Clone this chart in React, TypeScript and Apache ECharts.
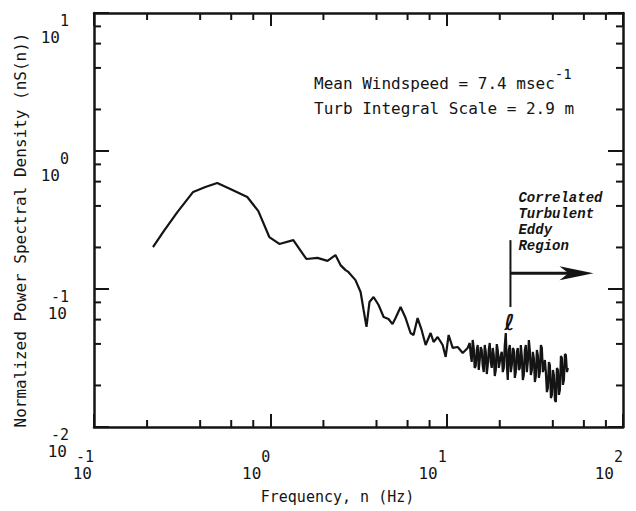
import React, { useEffect, useRef } from "react";
import * as echarts from "echarts";

// ---- data (frequency in Hz, normalized PSD nS(n)) ----
const freqHz = [
  0.216, 0.247, 0.297, 0.365, 0.428, 0.5, 0.593, 0.74, 0.855, 0.987, 1.125, 1.35, 1.6, 1.85, 2.11, 2.34, 2.5, 2.67,
  2.77, 3.04, 3.25, 3.38, 3.51, 3.65, 3.85, 4.11, 4.39, 4.68, 4.93, 5.13, 5.48, 5.85, 6.24, 6.49, 6.84, 7.21, 7.6,
  8.11, 8.43, 8.89, 9.49, 9.87, 10.26, 10.82, 11.55, 12.33, 13.16,
  13.51, 13.69, 13.87, 14.05, 14.24, 14.42, 14.61, 14.81, 15.0, 15.2, 15.4, 15.6, 15.81, 16.02, 16.23, 16.44, 16.66,
  16.88, 17.1, 17.32, 17.55, 17.78, 18.02, 18.26, 18.5, 18.74, 18.99, 19.24, 19.49, 19.75, 20.01, 20.27, 20.54, 20.81,
  21.08, 21.36, 21.64, 21.93, 22.21, 22.51, 22.8, 23.11, 23.41, 23.72, 24.03, 24.35, 24.66, 25.0, 25.32, 25.66, 25.99,
  26.34, 26.68, 27.04, 27.38, 27.76, 28.11, 28.49, 28.86, 29.25, 29.62, 30.02, 30.41, 30.82, 31.21, 31.64, 32.04,
  32.48, 32.89, 33.34, 33.76, 34.22, 34.66, 35.13, 35.58, 36.06, 36.52, 37.02, 37.49, 38.0, 38.48, 39.01, 39.5, 40.04,
  40.55, 41.11, 41.62, 42.2, 42.73, 43.31, 43.86, 44.46, 45.02, 45.64, 46.22, 46.85, 47.44, 48.09, 48.7,
];
const psd = [
  0.201, 0.259, 0.361, 0.505, 0.548, 0.586, 0.531, 0.464, 0.367, 0.238, 0.212, 0.226, 0.165, 0.168, 0.16, 0.176, 0.149,
  0.137, 0.133, 0.116, 0.0951, 0.0705, 0.0531, 0.0805, 0.0875, 0.0766, 0.0627, 0.0606, 0.0557, 0.0616, 0.0741, 0.0616,
  0.048, 0.0464, 0.0616, 0.0505, 0.0393, 0.048, 0.0413, 0.0449, 0.0393, 0.0322, 0.0464, 0.0374, 0.038, 0.0344, 0.0374,
  0.0406, 0.0332, 0.0296, 0.0427, 0.0374, 0.0268, 0.0277, 0.0361, 0.0393, 0.0259, 0.0306, 0.038, 0.0361, 0.0277,
  0.025, 0.0393, 0.035, 0.0242, 0.0281, 0.0361, 0.0406, 0.0296, 0.0268, 0.0374, 0.0332, 0.0234, 0.0259, 0.0399,
  0.0361, 0.0268, 0.0296, 0.0332, 0.035, 0.025, 0.0268, 0.0393, 0.0479, 0.0281, 0.0219, 0.0361, 0.0393, 0.025,
  0.0281, 0.0374, 0.0361, 0.0227, 0.025, 0.035, 0.0374, 0.0259, 0.0268, 0.0393, 0.0327, 0.0219, 0.0238, 0.0361,
  0.0393, 0.025, 0.0296, 0.0427, 0.0361, 0.0238, 0.0259, 0.035, 0.0316, 0.0212, 0.0234, 0.0361, 0.0332, 0.0227,
  0.025, 0.0393, 0.0374, 0.025, 0.0268, 0.0306, 0.025, 0.0179, 0.0192, 0.0296, 0.0281, 0.0162, 0.0171, 0.0259,
  0.0238, 0.0157, 0.0152, 0.0268, 0.0259, 0.0171, 0.0185, 0.0327, 0.0316, 0.0202, 0.0219, 0.0338, 0.0332, 0.025,
  0.0268,
];

// minor tick positions (2,4,6,8 within each decade)
const xMinorTicks = [0.2, 0.4, 0.6, 0.8, 2, 4, 6, 8, 20, 40, 60, 80];
const yMinorTicks = [0.02, 0.04, 0.06, 0.08, 0.2, 0.4, 0.6, 0.8, 2, 4, 6, 8];

// annotation anchors (data space)
const eddyFreq = 23;
const eddyTop = 0.226;
const eddyBottom = 0.074;
const arrowLevel = 0.13;
const arrowEndFreq = 68;

const xAxisTitle = "Frequency, n (Hz)";
const yAxisTitle = "Normalized Power Spectral Density (nS(n))";
const windLabel = "Mean Windspeed = 7.4 msec";
const windUnitExp = "-1";
const scaleLabel = "Turb Integral Scale = 2.9 m";
const regionLabel = ["Correlated", "Turbulent", "Eddy", "Region"];
const lengthLabel = "ℓ";

export default function App() {
  const ref = useRef<HTMLDivElement>(null);

  useEffect(() => {
    const chart = echarts.init(ref.current!, null, { renderer: "svg" });
    const mono = "DejaVu Sans Mono";
    const black = "#141414";

    const labelFmt = (v: number) => {
      const e = Math.round(Math.log10(v));
      return `{e|${e}}\n{${e >= 0 ? "bp" : "b"}|10}`;
    };
    const rich = {
      e: { fontFamily: mono, fontSize: 15, lineHeight: 15, color: black, align: "right" },
      b: { fontFamily: mono, fontSize: 16, lineHeight: 19, color: black, align: "right", padding: [0, 2, 0, 0] },
      bp: { fontFamily: mono, fontSize: 16, lineHeight: 19, color: black, align: "right", padding: [0, 9, 0, 0] },
    };

    const lineW = 2.5;
    const baseX = {
      type: "log",
      logBase: 10,
      min: 0.1,
      max: 100,
      splitNumber: 3,
      splitLine: { show: false },
      minorTick: { show: false },
      axisLine: { show: true, onZero: false, lineStyle: { color: black, width: lineW } },
      axisTick: { show: true, inside: true, length: 13, lineStyle: { color: black, width: 2 } },
    };
    const baseY = {
      type: "log",
      logBase: 10,
      min: 0.01,
      max: 10,
      splitNumber: 3,
      splitLine: { show: false },
      minorTick: { show: false },
      axisLine: { show: true, onZero: false, lineStyle: { color: black, width: lineW } },
      axisTick: { show: true, inside: true, length: 15, lineStyle: { color: black, width: 2 } },
    };

    const tickStyle = { stroke: black, lineWidth: 2 };

    chart.setOption({
      animation: false,
      backgroundColor: "#ffffff",
      grid: { left: 94, right: 13, top: 13, bottom: 84 },
      xAxis: [
        {
          ...baseX,
          position: "bottom",
          axisLabel: {
            formatter: labelFmt,
            rich,
            margin: 22,
            align: "right",
            showMinLabel: true,
            showMaxLabel: true,
          },
          name: xAxisTitle,
          nameLocation: "middle",
          nameGap: 62,
          nameTextStyle: { fontFamily: mono, fontSize: 15, color: black, padding: [0, 42, 0, 0] },
        },
        { ...baseX, position: "top", axisLabel: { show: false } },
      ],
      yAxis: [
        {
          ...baseY,
          position: "left",
          axisLabel: {
            formatter: labelFmt,
            rich,
            margin: 25,
            align: "right",
            verticalAlign: "top",
            showMinLabel: true,
            showMaxLabel: true,
          },
          name: yAxisTitle,
          nameLocation: "middle",
          nameGap: 66,
          nameTextStyle: { fontFamily: mono, fontSize: 16, color: black, padding: [0, 20, 0, 0] },
        },
        { ...baseY, position: "right", axisLabel: { show: false } },
      ],
      series: [
        {
          type: "line",
          xAxisIndex: 0,
          yAxisIndex: 0,
          data: freqHz.map((f, i) => [f, psd[i]]),
          showSymbol: false,
          symbol: "none",
          lineStyle: { color: black, width: 2.2 },
          silent: true,
          z: 3,
        },
        {
          type: "custom",
          xAxisIndex: 0,
          yAxisIndex: 0,
          silent: true,
          z: 5,
          data: [...xMinorTicks.map((v) => [v, 1, 0]), ...yMinorTicks.map((v) => [1, v, 1])],
          encode: { x: 0, y: 1 },
          renderItem: (params: any, api: any) => {
            const cs = params.coordSys;
            const isY = api.value(2) === 1;
            const p = api.coord([api.value(0), api.value(1)]);
            const len = 7;
            if (!isY) {
              return {
                type: "group",
                children: [
                  { type: "line", shape: { x1: p[0], y1: cs.y + cs.height, x2: p[0], y2: cs.y + cs.height - len }, style: tickStyle },
                  { type: "line", shape: { x1: p[0], y1: cs.y, x2: p[0], y2: cs.y + len }, style: tickStyle },
                ],
              };
            }
            return {
              type: "group",
              children: [
                { type: "line", shape: { x1: cs.x, y1: p[1], x2: cs.x + len, y2: p[1] }, style: tickStyle },
                { type: "line", shape: { x1: cs.x + cs.width, y1: p[1], x2: cs.x + cs.width - len, y2: p[1] }, style: tickStyle },
              ],
            };
          },
        },
      ],
    });

    const toPx = (f: number, v: number) => chart.convertToPixel({ seriesIndex: 0 }, [f, v]) as number[];
    const top = toPx(eddyFreq, eddyTop);
    const bot = toPx(eddyFreq, eddyBottom);
    const a0 = toPx(eddyFreq, arrowLevel);
    const a1 = toPx(arrowEndFreq, arrowLevel);

    chart.setOption({
      graphic: [
        {
          type: "text",
          left: 314,
          top: 67,
          style: {
            text: `{n|${windLabel}}{s|${windUnitExp}}`,
            rich: {
              n: { fontFamily: mono, fontSize: 16, lineHeight: 24, verticalAlign: "bottom", fill: black },
              s: { fontFamily: mono, fontSize: 14, lineHeight: 14, verticalAlign: "top", fill: black },
            },
          },
        },
        {
          type: "text",
          left: 314,
          top: 100,
          style: { text: scaleLabel, font: `16px "${mono}"`, fill: black },
        },
        {
          type: "line",
          shape: { x1: top[0], y1: top[1], x2: bot[0], y2: bot[1] },
          style: { stroke: black, lineWidth: 2 },
        },
        {
          type: "line",
          shape: { x1: a0[0], y1: a0[1], x2: a1[0] - 22, y2: a1[1] },
          style: { stroke: black, lineWidth: 3 },
        },
        {
          type: "polygon",
          shape: {
            points: [
              [a1[0], a1[1]],
              [a1[0] - 34, a1[1] - 7],
              [a1[0] - 25, a1[1]],
              [a1[0] - 34, a1[1] + 7],
            ],
          },
          style: { fill: black },
        },
        {
          type: "text",
          x: top[0] + 8,
          y: top[1] - 50,
          style: {
            text: regionLabel.join("\n"),
            font: 'italic bold 14px "Liberation Mono"',
            lineHeight: 16,
            fill: black,
          },
        },
        {
          type: "text",
          x: bot[0] - 1,
          y: bot[1] + 15,
          style: {
            text: lengthLabel,
            font: 'oblique bold 22px "DejaVu Sans"',
            fill: black,
            align: "center",
            verticalAlign: "middle",
          },
        },
      ],
    });

    return () => chart.dispose();
  }, []);

  return (
    <div
      ref={ref}
      style={{ position: "fixed", left: 0, top: 0, width: 636, height: 511, background: "#fff" }}
    />
  );
}
